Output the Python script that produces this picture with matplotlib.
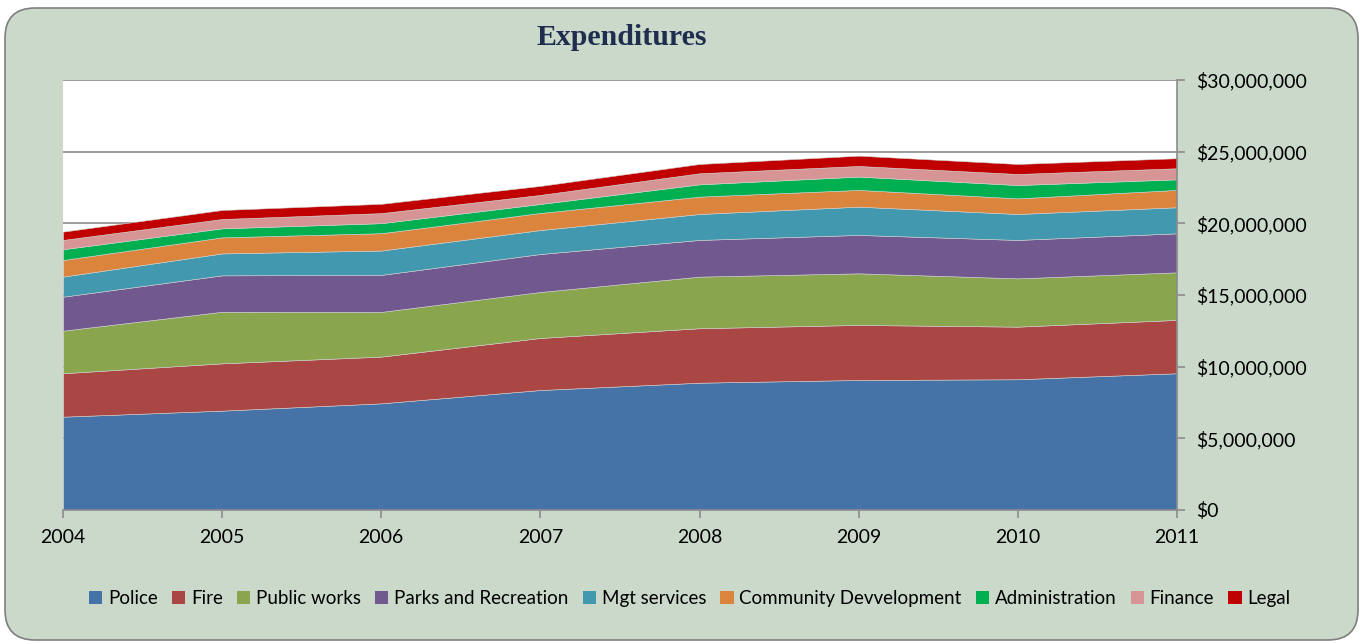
import matplotlib.pyplot as plt
from matplotlib.patches import FancyBboxPatch, Patch
from matplotlib.ticker import FuncFormatter, MultipleLocator

years = [2004, 2005, 2006, 2007, 2008, 2009, 2010, 2011]

# values in millions of dollars
police = [6.51, 6.93, 7.44, 8.37, 8.88, 9.07, 9.12, 9.54]
fire = [3.03, 3.30, 3.26, 3.63, 3.80, 3.84, 3.67, 3.72]
public_works = [2.97, 3.60, 3.12, 3.21, 3.60, 3.60, 3.37, 3.32]
parks = [2.37, 2.54, 2.58, 2.65, 2.56, 2.68, 2.68, 2.72]
mgt = [1.40, 1.53, 1.70, 1.67, 1.81, 1.97, 1.81, 1.82]
community = [1.16, 1.12, 1.21, 1.19, 1.21, 1.17, 1.09, 1.21]
admin = [0.75, 0.63, 0.70, 0.63, 0.86, 0.93, 0.93, 0.74]
finance = [0.65, 0.65, 0.70, 0.63, 0.77, 0.74, 0.77, 0.77]
legal = [0.58, 0.63, 0.65, 0.63, 0.65, 0.72, 0.70, 0.70]

labels = ["Police", "Fire", "Public works", "Parks and Recreation", "Mgt services",
          "Community Devvelopment", "Administration", "Finance", "Legal"]
colors = ['#4572A7', '#AA4643', '#89A54E', '#71588F', '#4198AF',
          '#DB843D', '#00B050', '#D69494', '#C00000']

series = [police, fire, public_works, parks, mgt, community, admin, finance, legal]
series = [[v * 1e6 for v in s] for s in series]

fig = plt.figure(figsize=(13.63, 6.44), dpi=100)
fig.patch.set_facecolor('white')

# rounded green background box (behind the axes)
box = FancyBboxPatch((0.3, 0.29), 13.03, 5.82,
                     boxstyle="round,pad=0.25,rounding_size=0.3",
                     transform=fig.dpi_scale_trans,
                     facecolor='#CAD9CA', edgecolor='#7F7F7F', linewidth=1.2,
                     zorder=-10)
fig.patches.append(box)

ax = fig.add_axes([0.0462, 0.2081, 0.8173, 0.6677])
ax.set_facecolor('white')

ax.stackplot(years, *series, colors=colors, labels=labels,
             edgecolor='#d0d0d0', linewidth=0.4, zorder=2)

ax.set_xlim(2004, 2011)
ax.set_ylim(0, 30e6)
ax.yaxis.set_major_locator(MultipleLocator(5e6))
ax.yaxis.set_major_formatter(FuncFormatter(lambda v, p: "${:,.0f}".format(v)))
ax.yaxis.tick_right()
ax.set_xticks(years)
ax.grid(axis='y', color='#8C8C8C', linewidth=1.2, zorder=1)
ax.set_axisbelow(True)

for s in ['left', 'top']:
    ax.spines[s].set_visible(False)
for s in ['right', 'bottom']:
    ax.spines[s].set_color('#8C8C8C')
    ax.spines[s].set_linewidth(1.2)
    ax.spines[s].set_zorder(3)

ax.tick_params(axis='both', colors='#8C8C8C', labelcolor='black',
               labelsize=14, length=6, width=1.2)
ax.tick_params(axis='x', pad=8)
ax.tick_params(axis='y', pad=8)
for t in ax.get_xticklabels() + ax.get_yticklabels():
    t.set_fontfamily('Lato')

fig.text(0.456, 0.941, "Expenditures", ha='center', va='center',
         fontsize=21.5, fontweight='bold', color='#1F2D4F', family='Liberation Serif')

handles = [Patch(facecolor=c, edgecolor='none') for c in colors]
fig.legend(handles, labels, loc='center', bbox_to_anchor=(0.506, 0.071), ncol=9,
           frameon=False, handlelength=0.72, handleheight=0.72, handletextpad=0.3,
           columnspacing=0.75, prop={'family': 'Lato', 'size': 13.5})

fig.savefig('out.png', dpi=100)
